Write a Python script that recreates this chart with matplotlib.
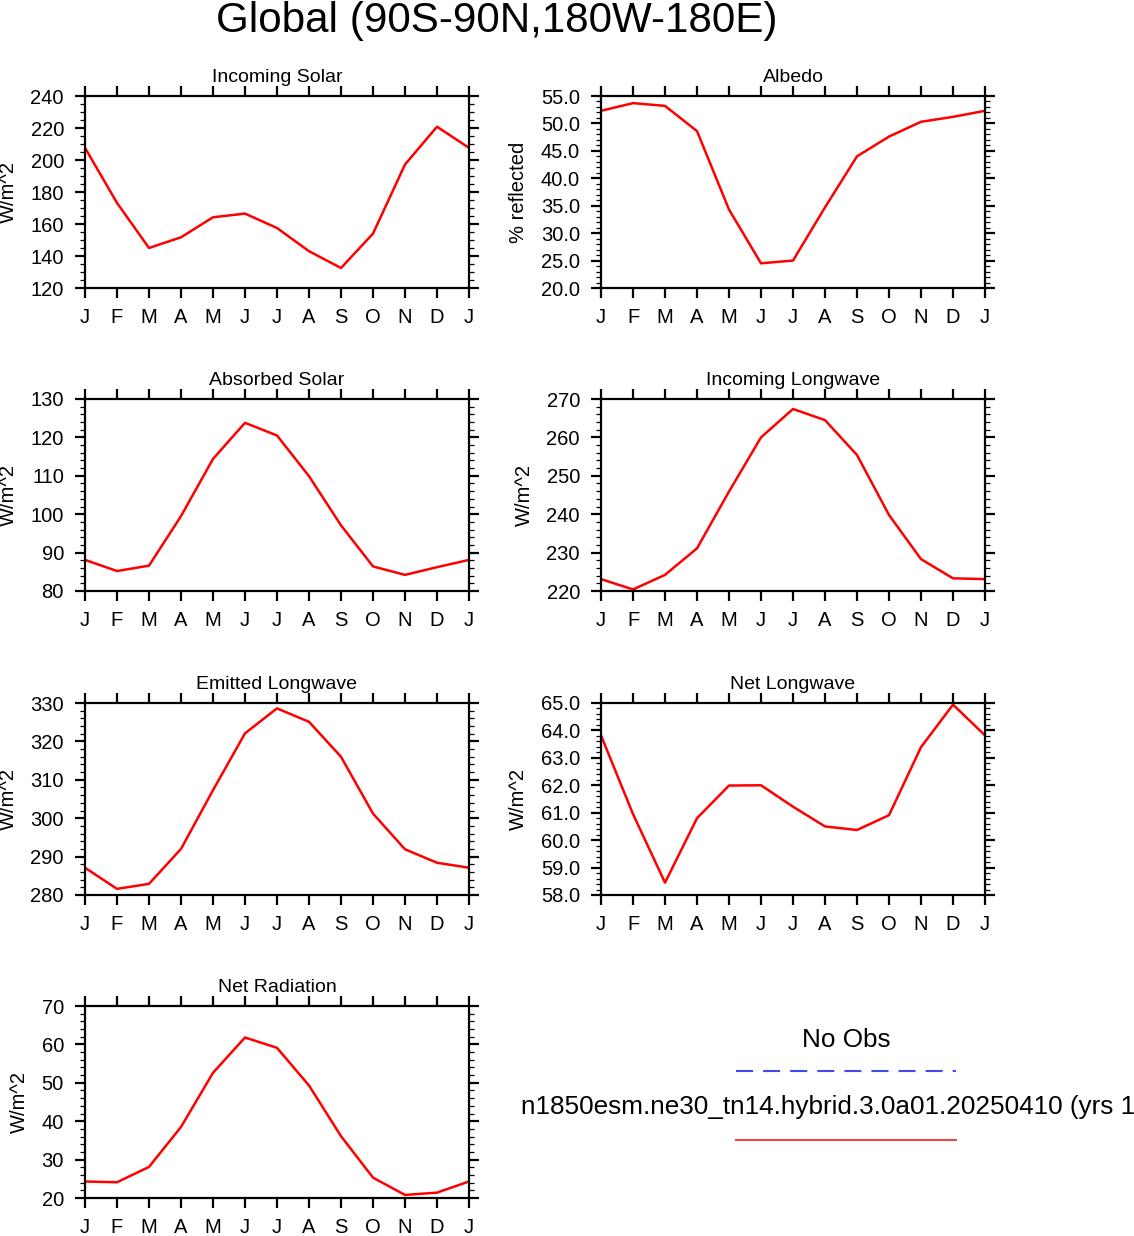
import numpy as np
import matplotlib
matplotlib.use("Agg")
import matplotlib.pyplot as plt
from matplotlib.ticker import MultipleLocator, FormatStrFormatter
from matplotlib.transforms import offset_copy
from matplotlib.lines import Line2D

plt.rcParams['font.family'] = ['Liberation Sans', 'DejaVu Sans']

months = ['J', 'F', 'M', 'A', 'M', 'J', 'J', 'A', 'S', 'O', 'N', 'D', 'J']

incoming_solar = [207.6, 173.2, 145.0, 151.7, 164.2, 166.5, 157.5, 143.0, 132.5, 154.0, 197.2, 220.8, 207.6]
albedo = [52.3, 53.7, 53.2, 48.6, 34.3, 24.5, 25.0, 34.7, 44.0, 47.6, 50.3, 51.2, 52.3]
absorbed_solar = [88.1, 85.2, 86.6, 99.5, 114.4, 123.8, 120.5, 109.9, 97.1, 86.4, 84.2, 86.2, 88.1]
incoming_lw = [223.1, 220.4, 224.2, 231.1, 245.9, 260.0, 267.4, 264.5, 255.4, 239.8, 228.3, 223.3, 223.1]
emitted_lw = [287.1, 281.6, 282.9, 292.0, 307.3, 322.1, 328.6, 325.1, 316.0, 301.2, 291.9, 288.4, 287.1]
net_lw = [63.82, 60.95, 58.45, 60.8, 61.99, 62.0, 61.22, 60.5, 60.37, 60.91, 63.39, 64.94, 63.82]
net_rad = [24.3, 24.1, 28.1, 38.5, 52.6, 61.8, 59.1, 49.3, 36.1, 25.3, 20.8, 21.4, 24.3]

# title, ylabel, data, ymin, ymax, major, minor, format, (left px, top px)
panels = [
    ("Incoming Solar", "W/m^2", incoming_solar, 120, 240, 20, 5, '%d', (85, 96)),
    ("Albedo", "% reflected", albedo, 20, 55, 5, 1, '%.1f', (601, 96)),
    ("Absorbed Solar", "W/m^2", absorbed_solar, 80, 130, 10, 2, '%d', (85, 399)),
    ("Incoming Longwave", "W/m^2", incoming_lw, 220, 270, 10, 2, '%d', (601, 399)),
    ("Emitted Longwave", "W/m^2", emitted_lw, 280, 330, 10, 2, '%d', (85, 703)),
    ("Net Longwave", "W/m^2", net_lw, 58, 65, 1, 0.2, '%.1f', (601, 703)),
    ("Net Radiation", "W/m^2", net_rad, 20, 70, 10, 2, '%d', (85, 1006)),
]

W, H = 1134, 1236
fig = plt.figure(figsize=(W / 100, H / 100), dpi=100)

fig.text(497 / W, 1 - 32 / H, "Global (90S-90N,180W-180E)", ha='center',
         va='baseline', fontsize=30.3)

aw, ah = 384, 192
x = np.arange(len(months))
for title, ylab, vals, y0, y1, maj, mnr, fmt, (px, py) in panels:
    ax = fig.add_axes([px / W, 1 - (py + ah) / H, aw / W, ah / H])
    ax.plot(x, vals, color='red', lw=1.8)
    ax.set_xlim(0, 12)
    ax.set_ylim(y0, y1)
    ax.set_xticks(x)
    ax.set_xticklabels(months)
    ax.yaxis.set_major_locator(MultipleLocator(maj))
    ax.yaxis.set_minor_locator(MultipleLocator(mnr))
    ax.yaxis.set_major_formatter(FormatStrFormatter(fmt))
    for s in ax.spines.values():
        s.set_linewidth(1.6)
    ax.tick_params(axis='x', which='major', direction='out', top=True, bottom=True,
                   length=7.2, width=1.6, pad=7.5, labelsize=14.5)
    ax.tick_params(axis='y', which='major', direction='out', left=True, right=True,
                   length=7.2, width=1.6, pad=8, labelsize=14.5)
    ax.tick_params(axis='y', which='minor', direction='out', left=True, right=True,
                   length=3.6, width=0.9)
    ax.set_ylabel(ylab, fontsize=14.5, labelpad=9)
    tr = offset_copy(ax.transAxes, fig=fig, y=10, units='points')
    ax.text(0.5, 1.0, title, transform=tr, ha='center', va='baseline', fontsize=14)

# legend area
fig.text(846 / W, 1 - 1047 / H, "No Obs", ha='center', va='baseline', fontsize=18.8)
fig.add_artist(Line2D([736 / W, 956 / W], [1 - 1071 / H, 1 - 1071 / H],
                      transform=fig.transFigure, color='#4848f0', lw=1.5,
                      dashes=[8.2, 4.8]))
fig.text(521 / W, 1 - 1114 / H, "n1850esm.ne30_tn14.hybrid.3.0a01.20250410 (yrs 1",
         ha='left', va='baseline', fontsize=18.8)
fig.add_artist(Line2D([736 / W, 956 / W], [1 - 1140 / H, 1 - 1140 / H],
                      transform=fig.transFigure, color='#f04848', lw=1.5))

fig.savefig("out.png", dpi=100)
